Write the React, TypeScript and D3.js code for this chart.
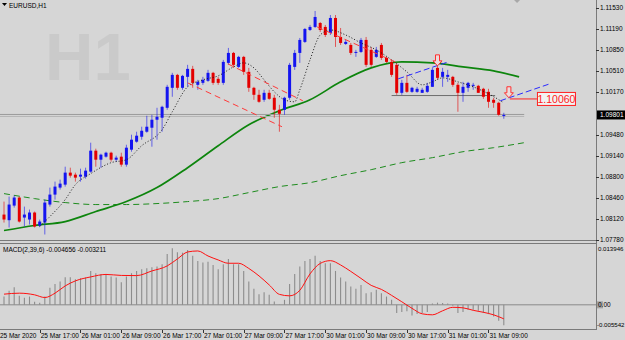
import { useEffect, useRef } from 'react';
import * as d3 from 'd3';

const W = 625;
const H = 340;
const BG = '#d6d6d6';
const BULL = '#1414f0';
const BEAR = '#e40000';

// EURUSD H1 bars, 25 Mar 10:00 .. 31 Mar 12:00
const opens = [
  1.08191, 1.08100, 1.08336, 1.08466, 1.08143, 1.08111, 1.08224, 1.08014, 1.08062, 1.08353,
  1.08514, 1.08627, 1.08675, 1.08869, 1.08836, 1.08804, 1.08804, 1.08885, 1.09224, 1.09078,
  1.09127, 1.09191, 1.09078, 1.09127, 1.08998, 1.09240, 1.09369, 1.09449, 1.09530, 1.09595,
  1.09724, 1.09756, 1.09917, 1.10240, 1.10449, 1.10240, 1.10417, 1.10546, 1.10288, 1.10320,
  1.10353, 1.10482, 1.10385, 1.10320, 1.10643, 1.10804, 1.10578, 1.10740, 1.10498, 1.10240,
  1.10127, 1.10046, 1.10159, 1.10079, 1.09885, 1.09885, 1.10079, 1.10578, 1.10804, 1.10982,
  1.11175, 1.11224, 1.11288, 1.11224, 1.11127, 1.11369, 1.11062, 1.10949, 1.10933, 1.10804,
  1.10820, 1.11014, 1.10853, 1.10740, 1.10933, 1.10724, 1.10659, 1.10611, 1.10159, 1.10320,
  1.10175, 1.10175, 1.10159, 1.10175, 1.10256, 1.10562, 1.10417, 1.10417, 1.10417, 1.10288,
  1.10159, 1.10240, 1.10272, 1.10272, 1.10224, 1.10175, 1.10046, 1.09998, 1.09790,
];
const highs = [
  1.08401, 1.08482, 1.08498, 1.08482, 1.08320, 1.08272, 1.08240, 1.08110, 1.08433, 1.08627,
  1.08724, 1.08756, 1.08965, 1.08949, 1.08869, 1.08933, 1.08949, 1.09353, 1.09256, 1.09175,
  1.09207, 1.09207, 1.09143, 1.09191, 1.09320, 1.09482, 1.09530, 1.09611, 1.09788, 1.09804,
  1.09917, 1.09950, 1.10288, 1.10482, 1.10465, 1.10449, 1.10611, 1.10595, 1.10369, 1.10417,
  1.10530, 1.10498, 1.10417, 1.10691, 1.10885, 1.10820, 1.10756, 1.10756, 1.10562, 1.10256,
  1.10208, 1.10208, 1.10208, 1.10127, 1.09965, 1.10095, 1.10643, 1.10853, 1.11046, 1.11207,
  1.11256, 1.11482, 1.11304, 1.11256, 1.11417, 1.11417, 1.11207, 1.11014, 1.10965, 1.10853,
  1.11046, 1.11062, 1.10901, 1.10901, 1.10965, 1.10740, 1.10691, 1.10643, 1.10369, 1.10449,
  1.10256, 1.10256, 1.10240, 1.10320, 1.10562, 1.10691, 1.10562, 1.10530, 1.10433, 1.10320,
  1.10336, 1.10336, 1.10320, 1.10288, 1.10240, 1.10224, 1.10079, 1.10014, 1.09836,
];
const lows = [
  1.08062, 1.07982, 1.08304, 1.08062, 1.07998, 1.08030, 1.07982, 1.07990, 1.07869, 1.08320,
  1.08433, 1.08595, 1.08643, 1.08788, 1.08724, 1.08724, 1.08772, 1.08869, 1.08965, 1.08949,
  1.09111, 1.09046, 1.09046, 1.08965, 1.08965, 1.09207, 1.09353, 1.09401, 1.09514, 1.09288,
  1.09401, 1.09530, 1.09885, 1.10095, 1.10208, 1.10208, 1.10256, 1.10240, 1.10208, 1.10288,
  1.10336, 1.10288, 1.10288, 1.10288, 1.10611, 1.10562, 1.10562, 1.10449, 1.10175, 1.10046,
  1.09998, 1.10014, 1.10046, 1.09756, 1.09530, 1.09804, 1.10046, 1.10530, 1.10643, 1.10965,
  1.11159, 1.11207, 1.11143, 1.11062, 1.11094, 1.10901, 1.10933, 1.10933, 1.10772, 1.10740,
  1.10804, 1.10578, 1.10578, 1.10724, 1.10691, 1.10643, 1.10417, 1.10127, 1.10127, 1.10159,
  1.10159, 1.10159, 1.10159, 1.10159, 1.10256, 1.10369, 1.10256, 1.10336, 1.10256, 1.09853,
  1.10014, 1.10175, 1.10208, 1.10159, 1.10062, 1.09917, 1.09917, 1.09788, 1.09740,
];
const closes = [
  1.08111, 1.08353, 1.08466, 1.08078, 1.08191, 1.08224, 1.07998, 1.08078, 1.08385, 1.08514,
  1.08643, 1.08691, 1.08869, 1.08820, 1.08788, 1.08836, 1.08901, 1.09224, 1.09078, 1.09159,
  1.09191, 1.09078, 1.09111, 1.08998, 1.09272, 1.09401, 1.09466, 1.09546, 1.09611, 1.09724,
  1.09772, 1.09933, 1.10256, 1.10449, 1.10240, 1.10433, 1.10546, 1.10320, 1.10336, 1.10369,
  1.10482, 1.10320, 1.10320, 1.10659, 1.10804, 1.10611, 1.10740, 1.10498, 1.10240, 1.10127,
  1.10014, 1.10159, 1.10062, 1.09885, 1.09820, 1.10079, 1.10611, 1.10804, 1.11014, 1.11191,
  1.11224, 1.11385, 1.11175, 1.11094, 1.11369, 1.11062, 1.10965, 1.10982, 1.10804, 1.10820,
  1.11014, 1.10611, 1.10611, 1.10853, 1.10724, 1.10659, 1.10449, 1.10159, 1.10320, 1.10175,
  1.10240, 1.10224, 1.10208, 1.10272, 1.10530, 1.10401, 1.10498, 1.10449, 1.10288, 1.10159,
  1.10256, 1.10320, 1.10288, 1.10159, 1.10095, 1.10014, 1.09998, 1.09804, 1.09801,
];

const bidPrice = 1.09801;
const priceTicks = [
  1.1153, 1.1119, 1.1085, 1.1051, 1.1017, 1.0948, 1.0914, 1.088, 1.0846, 1.0812, 1.0778,
];

const timeLabels = [
  '25 Mar 2020', '25 Mar 17:00', '26 Mar 01:00', '26 Mar 09:00', '26 Mar 17:00',
  '27 Mar 01:00', '27 Mar 09:00', '27 Mar 17:00', '30 Mar 01:00', '30 Mar 09:00',
  '30 Mar 17:00', '31 Mar 01:00', '31 Mar 09:00',
];
const timeLabelBars = [-1, 7, 15, 23, 31, 39, 47, 55, 63, 71, 79, 87, 95];

// moving averages, sampled [bar, price]
const maSolid: [number, number][] = [
  [0, 1.07933], [6, 1.08014], [12, 1.08078], [18, 1.0824], [24, 1.08401], [30, 1.08627],
  [36, 1.08949], [42, 1.09304], [48, 1.09643], [54, 1.09869], [60, 1.10046], [66, 1.10336],
  [72, 1.10562], [78, 1.10659], [84, 1.10643], [90, 1.10578], [96, 1.10514], [101, 1.10417],
];
const maDashed: [number, number][] = [
  [0, 1.0853], [6, 1.08449], [12, 1.08385], [18, 1.08353], [24, 1.08353], [30, 1.08369],
  [36, 1.08401], [42, 1.08449], [48, 1.08546], [54, 1.08643], [60, 1.08707], [66, 1.0882],
  [72, 1.08917], [78, 1.0903], [84, 1.09111], [90, 1.09207], [96, 1.09272], [102, 1.09353],
];
const maDotted: [number, number][] = [
  [7, 1.07998], [9, 1.08159], [12, 1.08433], [14, 1.08675], [17, 1.08853], [21, 1.0903],
  [24, 1.09078], [27, 1.09304], [31, 1.09562], [33, 1.09853], [36, 1.10256], [39, 1.10369],
  [42, 1.10433], [45, 1.10578], [47, 1.10643], [49, 1.10562], [51, 1.10369], [53, 1.10175],
  [55, 1.10046], [57, 1.10014], [58, 1.10207], [60, 1.10691], [62, 1.11094], [64, 1.11175],
  [67, 1.11094], [70, 1.10965], [73, 1.10853], [76, 1.10691], [79, 1.10498], [82, 1.10288],
  [84, 1.10336], [86, 1.10401], [89, 1.10336], [92, 1.10256], [95, 1.10143], [98, 1.09998],
];

// chart objects
const redChannel: [number, number, number, number][] = [
  [36, 1.1032, 54.5, 1.09611],
  [43.9, 1.10627, 58.6, 1.1003],
  [61.4, 1.11224, 76.7, 1.10659],
];
const blueChannel: [number, number, number, number][] = [
  [77.3, 1.10385, 87.1, 1.10659],
  [97.3, 1.1003, 107, 1.10304],
];
const downArrows: [number, number][] = [[85, 1.10595], [99, 1.10079]];
const supportLine = { price: 1.10115, from: 76, to: 96.3 };
const bidLine = { from: -1, to: 102 };
const alertLevel = { price: 1.1006, from: 99.2, label: 104.5, text: '1.10060' };

// MACD(2,39,6)
const macdMain = [
  0.0019, 0.0032, 0.00405, 0.00206, 0.0016, 0.0019, 0.00069, 0.00046, 0.0019, 0.00389,
  0.0048, 0.00533, 0.00633, 0.00633, 0.00588, 0.0061, 0.00624, 0.00777, 0.00725, 0.00702,
  0.00702, 0.00647, 0.00624, 0.00519, 0.00647, 0.00725, 0.00777, 0.00816, 0.00839, 0.00862,
  0.00876, 0.0093, 0.01166, 0.01296, 0.01205, 0.01196, 0.01257, 0.01127, 0.01006, 0.00972,
  0.0099, 0.00914, 0.00816, 0.0093, 0.01052, 0.0093, 0.0093, 0.00777, 0.00533, 0.00366,
  0.00245, 0.0029, 0.00229, 0.00075, 0.0001, 0.00114, 0.0048, 0.00709, 0.00876, 0.01006,
  0.01052, 0.01127, 0.01006, 0.00953, 0.00953, 0.00777, 0.00624, 0.00533, 0.00418, 0.00366,
  0.00457, 0.00267, 0.0029, 0.00343, 0.00267, 0.0019, 0.00114, -0.0019, -0.00167, -0.00149,
  -0.00245, -0.00213, -0.0019, -0.00167, 0.0003, 0.0005, 0.0004, 0.0003, -0.0002, -0.0019,
  -0.00167, -0.00114, -0.00114, -0.00137, -0.0019, -0.00213, -0.00267, -0.00366, -0.004656,
];
const macdSignal: [number, number][] = [
  [0, 0.00245], [3, 0.00267], [6, 0.00229], [8, 0.00167], [10, 0.00267], [12, 0.00434],
  [14, 0.00549], [17, 0.0064], [20, 0.00697], [23, 0.00674], [26, 0.0067], [29, 0.00777],
  [32, 0.00892], [34, 0.01052], [36, 0.01212], [38, 0.01235], [40, 0.0112], [42, 0.01029],
  [44, 0.00953], [46, 0.00953], [48, 0.00834], [50, 0.00663], [52, 0.00457], [54, 0.0024],
  [56, 0.00206], [58, 0.00332], [60, 0.00709], [62, 0.00949], [64, 0.01013], [66, 0.00914],
  [68, 0.00766], [70, 0.00606], [72, 0.00446], [74, 0.00354], [76, 0.00217], [78, 0.0007],
  [80, -0.0008], [82, -0.00206], [84, -0.00229], [86, -0.00137], [88, -0.00057], [90, -0.00069],
  [92, -0.00126], [94, -0.00171], [96, -0.00229], [98, -0.003211],
];
const macdMax = 0.013946;
const macdMin = -0.005542;

const FONT = '"Liberation Sans", Arial, sans-serif';
const SMALL = '6.5px';

export default function App() {
  const svgRef = useRef<SVGSVGElement>(null);

  useEffect(() => {
    if (!svgRef.current) return;
    const svg = d3.select(svgRef.current);
    svg.selectAll('*').remove();

    const axisX = 596;
    const x = d3.scaleLinear().domain([0, 98]).range([4, 4 + 98 * 5.1]);
    const y = d3.scaleLinear().domain([1.0778, 1.1153]).range([240, 8]);
    const ym = d3.scaleLinear().domain([macdMin, macdMax]).range([329, 244]);

    svg.append('rect').attr('width', W).attr('height', H).attr('fill', BG);

    const defs = svg.append('defs');
    defs.append('clipPath').attr('id', 'clip-main')
      .append('rect').attr('x', 0).attr('y', 0).attr('width', axisX).attr('height', 240);
    defs.append('clipPath').attr('id', 'clip-macd')
      .append('rect').attr('x', 0).attr('y', 244).attr('width', axisX).attr('height', 85);

    // timeframe watermark
    svg.append('text')
      .attr('x', 45).attr('y', 80)
      .style('font-family', FONT).style('font-size', '67px').style('font-weight', 'bold')
      .style('fill', '#cacaca')
      .text('H1');

    const main = svg.append('g').attr('clip-path', 'url(#clip-main)');

    const lineOf = (curve: d3.CurveFactory) => d3.line<[number, number]>()
      .x(d => x(d[0])).y(d => y(d[1])).curve(curve);

    // slow MA (dashed) and fast MA (solid)
    main.append('path').attr('d', lineOf(d3.curveMonotoneX)(maDashed))
      .attr('fill', 'none').attr('stroke', '#1e8c1e').attr('stroke-width', 1)
      .attr('stroke-dasharray', '6,4');
    main.append('path').attr('d', lineOf(d3.curveMonotoneX)(maSolid))
      .attr('fill', 'none').attr('stroke', '#0d850d').attr('stroke-width', 1.7);

    // bid level and support
    main.append('line')
      .attr('x1', x(bidLine.from)).attr('x2', x(bidLine.to))
      .attr('y1', y(bidPrice) - 0.5).attr('y2', y(bidPrice) - 0.5)
      .attr('stroke', '#9a9a9a').attr('stroke-width', 1);
    main.append('line')
      .attr('x1', x(bidLine.from)).attr('x2', x(bidLine.to))
      .attr('y1', y(bidPrice) + 1.5).attr('y2', y(bidPrice) + 1.5)
      .attr('stroke', '#b4b4b4').attr('stroke-width', 1);
    main.append('line')
      .attr('x1', x(supportLine.from)).attr('x2', x(supportLine.to))
      .attr('y1', y(supportLine.price)).attr('y2', y(supportLine.price))
      .attr('stroke', '#6e6e6e').attr('stroke-width', 1);

    // candles
    const bars = d3.range(opens.length);
    const candles = main.append('g');
    candles.selectAll('line.wick').data(bars).join('line')
      .attr('class', 'wick')
      .attr('x1', i => x(i)).attr('x2', i => x(i))
      .attr('y1', i => y(highs[i])).attr('y2', i => y(lows[i]))
      .attr('stroke', i => (closes[i] >= opens[i] ? BULL : BEAR))
      .attr('stroke-opacity', 0.6)
      .attr('stroke-width', 1);
    candles.selectAll('rect.body').data(bars).join('rect')
      .attr('class', 'body')
      .attr('x', i => x(i) - 1.5)
      .attr('width', 3)
      .attr('y', i => y(Math.max(opens[i], closes[i])))
      .attr('height', i => Math.max(1, Math.abs(y(opens[i]) - y(closes[i]))))
      .attr('fill', i => (closes[i] >= opens[i] ? BULL : BEAR));

    // dotted MA
    main.append('path').attr('d', lineOf(d3.curveMonotoneX)(maDotted))
      .attr('fill', 'none').attr('stroke', '#1c1c1c').attr('stroke-width', 1)
      .attr('stroke-dasharray', '1,2');

    // trend channels
    const seg = (g: d3.Selection<SVGGElement, unknown, null, undefined>,
      data: [number, number, number, number][], color: string, dash: string) => {
      g.selectAll(null).data(data).join('line')
        .attr('x1', d => x(d[0])).attr('y1', d => y(d[1]))
        .attr('x2', d => x(d[2])).attr('y2', d => y(d[3]))
        .attr('stroke', color).attr('stroke-width', 1).attr('stroke-dasharray', dash);
    };
    seg(main, redChannel, '#ff3a3a', '6,4');
    seg(main, blueChannel, '#2a2aff', '6,3');

    // alert level and its label
    const ly = y(alertLevel.price);
    main.append('line')
      .attr('x1', x(alertLevel.from)).attr('x2', x(alertLevel.label))
      .attr('y1', ly).attr('y2', ly)
      .attr('stroke', '#ff2020').attr('stroke-width', 1);
    main.append('rect')
      .attr('x', x(alertLevel.label) + 0.5).attr('y', ly - 6.5)
      .attr('width', 38).attr('height', 13)
      .attr('fill', '#f2f2f2').attr('stroke', '#ff2020').attr('stroke-width', 1);
    main.append('text')
      .attr('x', x(alertLevel.label) + 19.5).attr('y', ly + 4)
      .attr('text-anchor', 'middle')
      .style('font-family', FONT).style('font-size', '10.5px').style('fill', '#ff1a1a')
      .text(alertLevel.text);

    // down arrows
    main.selectAll('path.arrow').data(downArrows).join('path')
      .attr('class', 'arrow')
      .attr('d', d => {
        const cx = x(d[0]);
        const ty = y(d[1]);
        return `M${cx - 2},${ty - 11}L${cx + 2},${ty - 11}L${cx + 2},${ty - 5}L${cx + 4.5},${ty - 5}`
          + `L${cx},${ty}L${cx - 4.5},${ty - 5}L${cx - 2},${ty - 5}Z`;
      })
      .attr('fill', '#ecdcdc').attr('stroke', '#ff3030').attr('stroke-width', 1);

    // chart shift marker
    const sx = x(100.6);
    svg.append('path').attr('d', `M${sx - 3},0L${sx + 3},0L${sx},3Z`).attr('fill', '#a8a8a8');

    // symbol caption
    svg.append('path').attr('d', 'M2,3L7,3L4.5,6Z').attr('fill', '#000');
    svg.append('text').attr('x', 9).attr('y', 7.5)
      .style('font-family', FONT).style('font-size', SMALL).style('fill', '#000')
      .text('EURUSD,H1');

    // MACD window
    const macd = svg.append('g').attr('clip-path', 'url(#clip-macd)');
    macd.append('line')
      .attr('x1', 0).attr('x2', axisX).attr('y1', ym(0)).attr('y2', ym(0))
      .attr('stroke', '#8a8a8a').attr('stroke-width', 1);
    macd.selectAll('line.hist').data(bars).join('line')
      .attr('class', 'hist')
      .attr('x1', i => x(i)).attr('x2', i => x(i))
      .attr('y1', ym(0)).attr('y2', i => ym(macdMain[i]))
      .attr('stroke', '#8c8c8c').attr('stroke-width', 1.1);
    macd.append('path')
      .attr('d', d3.line<[number, number]>().x(d => x(d[0])).y(d => ym(d[1]))
        .curve(d3.curveMonotoneX)(macdSignal))
      .attr('fill', 'none').attr('stroke', '#ff1010').attr('stroke-width', 1);

    svg.append('text').attr('x', 3).attr('y', 252)
      .style('font-family', FONT).style('font-size', SMALL).style('fill', '#000')
      .text(`MACD(2,39,6) ${macdMain[macdMain.length - 1].toFixed(6)} ${macdSignal[macdSignal.length - 1][1].toFixed(6)}`);

    // window frames
    const frame = svg.append('g').attr('stroke', '#7a7a7a').attr('stroke-width', 1);
    frame.append('line').attr('x1', 0).attr('x2', axisX).attr('y1', 240.5).attr('y2', 240.5);
    frame.append('line').attr('x1', 0).attr('x2', axisX).attr('y1', 243.5).attr('y2', 243.5);
    frame.append('line').attr('x1', 0).attr('x2', axisX).attr('y1', 329.5).attr('y2', 329.5);
    frame.append('line').attr('x1', axisX + 0.5).attr('x2', axisX + 0.5).attr('y1', 0).attr('y2', 330);

    // price scale
    const pAxis = svg.append('g');
    pAxis.selectAll('line').data(priceTicks).join('line')
      .attr('x1', axisX).attr('x2', axisX + 3)
      .attr('y1', d => Math.round(y(d)) + 0.5).attr('y2', d => Math.round(y(d)) + 0.5)
      .attr('stroke', '#333');
    pAxis.selectAll('text').data(priceTicks).join('text')
      .attr('x', 600).attr('y', d => y(d) + 2.3)
      .style('font-family', FONT).style('font-size', SMALL).style('fill', '#000')
      .text(d => d.toFixed(5));

    svg.append('rect').attr('x', axisX + 1).attr('y', y(bidPrice) - 4.5)
      .attr('width', W - axisX - 1).attr('height', 9).attr('fill', '#000');
    svg.append('text').attr('x', 600).attr('y', y(bidPrice) + 2.3)
      .style('font-family', FONT).style('font-size', SMALL).style('fill', '#fff')
      .text(bidPrice.toFixed(5));

    // MACD scale
    svg.append('text').attr('x', 598).attr('y', ym(macdMax) + 6.5)
      .style('font-family', FONT).style('font-size', '6.1px').style('fill', '#000')
      .text(macdMax.toFixed(6));
    svg.append('rect').attr('x', axisX + 1).attr('y', ym(0) - 3.5).attr('width', 6).attr('height', 7)
      .attr('fill', '#a2a2a2');
    svg.append('text').attr('x', 598).attr('y', ym(0) + 2.3)
      .style('font-family', FONT).style('font-size', SMALL).style('fill', '#000')
      .text('0.00');
    svg.append('text').attr('x', 597).attr('y', ym(macdMin) - 2)
      .style('font-family', FONT).style('font-size', '6.1px').style('fill', '#000')
      .text(macdMin.toFixed(6));

    // time scale
    const tAxis = svg.append('g');
    tAxis.selectAll('line').data(timeLabelBars).join('line')
      .attr('x1', i => Math.round(x(i)) + 0.5).attr('x2', i => Math.round(x(i)) + 0.5)
      .attr('y1', 330).attr('y2', 333)
      .attr('stroke', '#333');
    tAxis.selectAll('text').data(timeLabelBars).join('text')
      .attr('x', i => x(i) + 1).attr('y', 337.5)
      .style('font-family', FONT).style('font-size', SMALL).style('fill', '#000')
      .text((_, k) => timeLabels[k]);
  }, []);

  return (
    <svg
      ref={svgRef}
      width={W}
      height={H}
      style={{ position: 'absolute', left: 0, top: 0, display: 'block' }}
    />
  );
}
